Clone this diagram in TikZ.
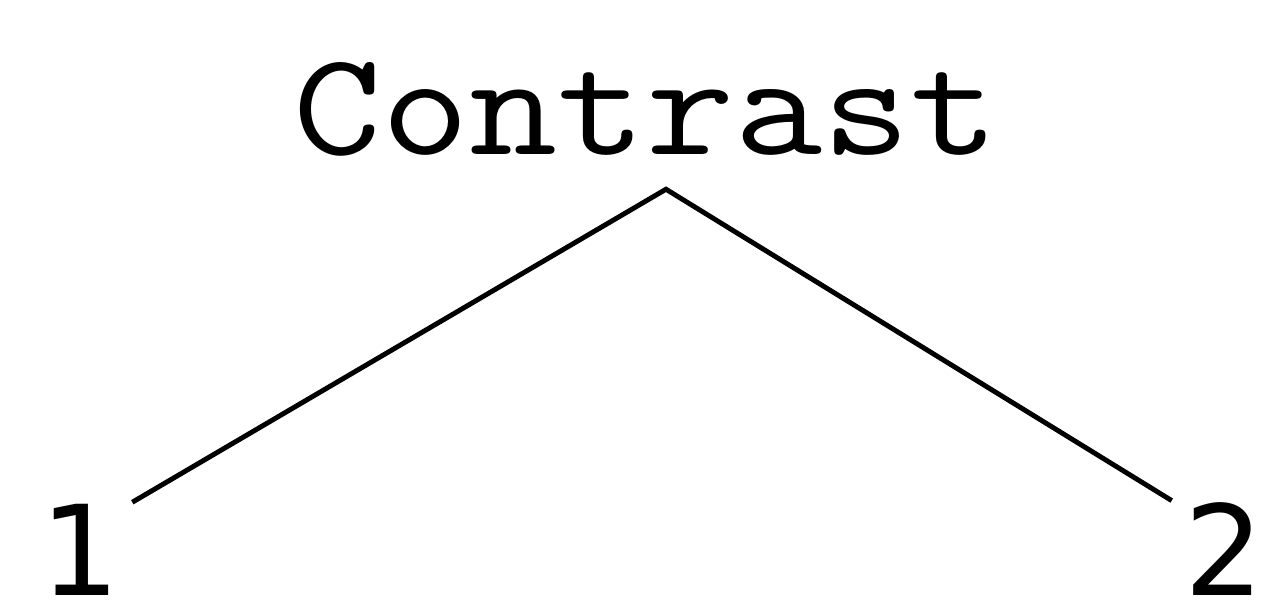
\documentclass[tikz,border=0pt]{standalone}
\usepackage{fontspec}
\usepackage{graphicx}
\newfontfamily\digitfont{DejaVu Sans}
\usetikzlibrary{calc}

\begin{document}
\begin{tikzpicture}[x=0.01cm,y=0.01cm,line width=1.4pt]
\useasboundingbox (0,0) rectangle (1266,601);
\tikzset{leaf/.style={inner xsep=0.1cm,inner ysep=0pt,font=\digitfont\fontsize{35.6}{40}\selectfont}}
\node[anchor=base,inner xsep=0pt,inner ysep=0.3cm,font=\ttfamily\fontsize{42}{48}\selectfont] (top) at (646,446) {\scalebox{1.16}[1]{Contrast}};
\node[leaf,anchor=base] (one) at (80,5) {1};
\node[leaf,anchor=base] (two) at (1224,5) {2};
%\draw[red] (0,0) rectangle (1266,601);
\draw (one.north east) -- ([xshift=0.2cm]top.south) -- (two.north west);
\end{tikzpicture}
\end{document}
